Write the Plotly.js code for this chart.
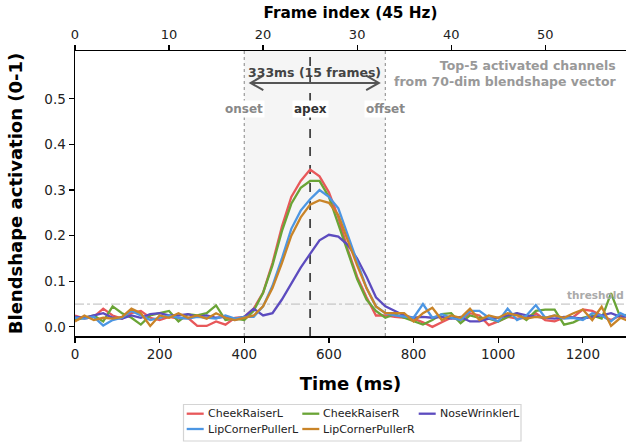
<!DOCTYPE html>
<html>
<head>
<meta charset="utf-8">
<script src="https://cdn.plot.ly/plotly-3.0.1.min.js"></script>
<style>html,body{margin:0;padding:0;background:#fff}#chart{width:626px;height:442px}</style>
</head>
<body>
<div id="chart"></div>
<script>
// Frame indices (45 Hz)
const frames = [0,1,2,3,4,5,6,7,8,9,10,11,12,13,14,15,16,17,18,19,20,21,22,23,24,25,26,27,28,29,30,31,32,33,34,35,36,37,38,39,40,41,42,43,44,45,46,47,48,49,50,51,52,53,54,55,56,57,58,59];
const fps = 45;

const seriesNames = ["CheekRaiserL","CheekRaiserR","NoseWrinklerL","LipCornerPullerL","LipCornerPullerR"];
const seriesColors = ["#e8585a","#6aa436","#5c4bbf","#4c96e3","#c98428"];

const cheekRaiserL = [0.025,0.018,0.022,0.040,0.025,0.018,0.030,0.035,0.020,0.015,0.022,0.018,0.020,0.002,0.002,0.012,0.005,0.020,0.022,0.040,0.075,0.140,0.220,0.285,0.320,0.345,0.330,0.295,0.240,0.170,0.110,0.065,0.025,0.025,0.022,0.020,0.018,0.010,0.000,0.010,0.020,0.015,0.030,0.025,0.004,0.012,0.022,0.018,0.020,0.030,0.015,0.012,0.020,0.022,0.038,0.035,0.025,0.015,0.025,0.018];
const cheekRaiserR = [0.015,0.020,0.025,0.012,0.045,0.030,0.020,0.005,0.025,0.030,0.035,0.012,0.028,0.025,0.030,0.047,0.015,0.018,0.015,0.035,0.075,0.135,0.210,0.270,0.305,0.320,0.320,0.285,0.225,0.160,0.105,0.060,0.035,0.020,0.028,0.020,0.012,0.005,0.015,0.028,0.030,0.008,0.025,0.020,0.018,0.012,0.022,0.030,0.015,0.035,0.038,0.038,0.005,0.010,0.020,0.025,0.018,0.074,0.020,0.030];
const noseWrinklerL = [0.022,0.020,0.025,0.030,0.020,0.018,0.025,0.020,0.028,0.030,0.025,0.025,0.028,0.022,0.025,0.020,0.022,0.015,0.022,0.040,0.025,0.030,0.060,0.095,0.130,0.160,0.190,0.202,0.198,0.180,0.150,0.110,0.065,0.045,0.035,0.025,0.020,0.022,0.020,0.022,0.018,0.022,0.012,0.012,0.018,0.020,0.025,0.030,0.025,0.022,0.020,0.018,0.022,0.020,0.018,0.022,0.025,0.030,0.022,0.025];
const lipCornerPullerL = [0.020,0.018,0.022,0.003,0.015,0.020,0.035,0.025,0.015,0.020,0.025,0.020,0.018,0.022,0.020,0.018,0.025,0.018,0.022,0.022,0.045,0.090,0.150,0.215,0.255,0.280,0.300,0.285,0.260,0.200,0.140,0.085,0.045,0.030,0.025,0.022,0.020,0.050,0.020,0.028,0.020,0.015,0.035,0.035,0.020,0.012,0.040,0.015,0.025,0.048,0.020,0.025,0.018,0.020,0.015,0.030,0.025,0.012,0.030,0.020];
const lipCornerPullerR = [0.012,0.025,0.015,0.020,0.018,0.022,0.040,0.030,0.002,0.025,0.020,0.030,0.020,0.025,0.018,0.030,0.020,0.015,0.020,0.025,0.045,0.085,0.140,0.200,0.240,0.268,0.278,0.272,0.245,0.190,0.135,0.085,0.045,0.030,0.030,0.030,0.012,0.030,0.042,0.015,0.025,0.020,0.040,0.015,0.025,0.020,0.030,0.025,0.018,0.022,0.020,0.025,0.020,0.030,0.038,0.015,0.044,0.002,0.020,0.012];
const seriesValues = [cheekRaiserL, cheekRaiserR, noseWrinklerL, lipCornerPullerL, lipCornerPullerR];

const onsetFrame = 18, apexFrame = 25, offsetFrame = 33;
const threshold = 0.05;
const xTicks = [0,200,400,600,800,1000,1200];
const frameTicks = [0,10,20,30,40,50];
const yTicks = [0.0,0.1,0.2,0.3,0.4,0.5];

const toMs = f => f * 1000 / fps;
const times = frames.map(toMs);
const onset = toMs(onsetFrame), apex = toMs(apexFrame), offset = toMs(offsetFrame);

const xMax = 1302;
const FONT = "DejaVu Sans, sans-serif";

const traces = seriesNames.map((n, i) => ({
  type: "scatter", mode: "lines", name: n, x: times, y: seriesValues[i],
  line: {color: seriesColors[i], width: 2.3}, showlegend: false, xaxis: "x", yaxis: "y"
}));
// invisible trace to anchor the frame axis
traces.push({type:"scatter", mode:"lines", x:[0, xMax*fps/1000], y:[null,null], xaxis:"x2", yaxis:"y", showlegend:false, hoverinfo:"skip"});

const shapes = [
  {type:"rect", xref:"x", yref:"paper", x0:onset, x1:offset, y0:0, y1:1, fillcolor:"#f5f5f5", line:{width:0}, layer:"below"},
  {type:"line", xref:"x", yref:"paper", x0:onset, x1:onset, y0:0, y1:1, line:{color:"#999", width:1.2, dash:"dot"}, layer:"below"},
  {type:"line", xref:"x", yref:"paper", x0:offset, x1:offset, y0:0, y1:1, line:{color:"#999", width:1.2, dash:"dot"}, layer:"below"},
  {type:"line", xref:"x", yref:"paper", x0:apex, x1:apex, y0:0, y1:1, line:{color:"#444", width:1.8, dash:"dash"}, layer:"below"},
  {type:"line", xref:"paper", yref:"y", x0:0, x1:1, y0:threshold, y1:threshold, line:{color:"#bbb", width:1, dash:"dashdot"}, layer:"below"},
  // double arrow
  {type:"line", xref:"x", yref:"y", x0:415, x1:718, y0:0.535, y1:0.535, line:{color:"#555", width:2}},
  {type:"path", xref:"x", yref:"y", path:"M 445,0.551 L 415,0.535 L 445,0.519", line:{color:"#555", width:2}},
  {type:"path", xref:"x", yref:"y", path:"M 688,0.551 L 718,0.535 L 688,0.519", line:{color:"#555", width:2}},
  // legend box
  {type:"rect", xref:"paper", yref:"paper", x0:(183.5-75)/551, x1:(521-75)/551, y0:(336-441)/285, y1:(336-404.5)/285, line:{color:"#d4d4d4", width:1.2}, fillcolor:"#fff"}
];

const annotations = [
  {x:(onset+offset)/2, y:0.558, xref:"x", yref:"y", text:"333ms (15 frames)", showarrow:false, font:{family:FONT, size:12.5, color:"#444", weight:"bold"}},
  {x:onset, y:0.477, xref:"x", yref:"y", text:"onset", showarrow:false, bgcolor:"#fff", borderpad:1, font:{family:FONT, size:12, color:"#888", weight:"bold"}},
  {x:apex, y:0.477, xref:"x", yref:"y", text:"apex", showarrow:false, bgcolor:"#fff", borderpad:1, font:{family:FONT, size:12, color:"#333", weight:"bold"}},
  {x:offset, y:0.477, xref:"x", yref:"y", text:"offset", showarrow:false, bgcolor:"#fff", borderpad:1, font:{family:FONT, size:12, color:"#888", weight:"bold"}},
  {x:1283, y:0.555, xref:"x", yref:"y", xanchor:"right", align:"right", text:"Top-5 activated channels<br>from 70-dim blendshape vector", showarrow:false, font:{family:FONT, size:12.5, color:"#999", weight:"bold"}},
  {x:1, xref:"paper", y:0.071, yref:"y", xanchor:"right", text:"threshold", showarrow:false, borderpad:0, xshift:-1, font:{family:FONT, size:10.5, color:"#aaa", weight:"bold"}}
];

// manual legend (3 columns, column-wise fill like the original)
const legendOrder = [0, 3, 1, 4, 2];
const colX = [186.7, 302.3, 418.7];
const rowY = [413.7, 429];
legendOrder.forEach((si, k) => {
  const c = Math.floor(k / 2), r = k % 2;
  const px0 = colX[c], py = rowY[r];
  shapes.push({type:"line", xref:"paper", yref:"paper", x0:(px0-75)/551, x1:(px0+17-75)/551, y0:(336-py)/285, y1:(336-py)/285, line:{color:seriesColors[si], width:2.3}});
  annotations.push({xref:"paper", yref:"paper", x:(px0+19-75)/551, y:(336-py)/285, xanchor:"left", yanchor:"middle", text:seriesNames[si], showarrow:false, font:{family:FONT, size:11, color:"#222"}});
});

const layout = {
  width: 626, height: 442,
  margin: {l:75, r:0, t:51, b:106, pad:0},
  paper_bgcolor: "#fff", plot_bgcolor: "#fff",
  font: {family: FONT, color: "#222"},
  showlegend: false,
  xaxis: {
    range:[0, xMax], tickvals:xTicks, ticktext:xTicks.map(String),
    showgrid:false, zeroline:false, showline:true, linecolor:"#000", linewidth:1.5,
    ticks:"outside", ticklen:5, tickwidth:1.2, tickcolor:"#000",
    tickfont:{family:FONT, size:13.5, color:"#222"},
    title:{text:"Time (ms)", font:{family:FONT, size:18, color:"#000", weight:"bold"}, standoff:16}
  },
  xaxis2: {
    overlaying:"x", side:"top", anchor:"y", range:[0, xMax*fps/1000],
    tickvals:frameTicks, ticktext:frameTicks.map(String),
    showgrid:false, zeroline:false, showline:true, linecolor:"#000", linewidth:1.5,
    ticks:"outside", ticklen:5, tickwidth:1.2, tickcolor:"#000",
    tickfont:{family:FONT, size:13, color:"#222"},
    title:{text:"Frame index (45 Hz)", font:{family:FONT, size:15.3, color:"#000", weight:"bold"}, standoff:5}
  },
  yaxis: {
    range:[-0.02, 0.605], tickvals:yTicks, ticktext:yTicks.map(v => v.toFixed(1)),
    showgrid:false, zeroline:false, showline:true, linecolor:"#000", linewidth:1.5,
    ticks:"outside", ticklen:5, tickwidth:1.2, tickcolor:"#000",
    tickfont:{family:FONT, size:13.5, color:"#222"},
    title:{text:"Blendshape activation (0-1)", font:{family:FONT, size:18, color:"#000", weight:"bold"}, standoff:17}
  },
  shapes: shapes,
  annotations: annotations
};

Plotly.newPlot("chart", traces, layout, {staticPlot:true, displayModeBar:false});
</script>
</body>
</html>
